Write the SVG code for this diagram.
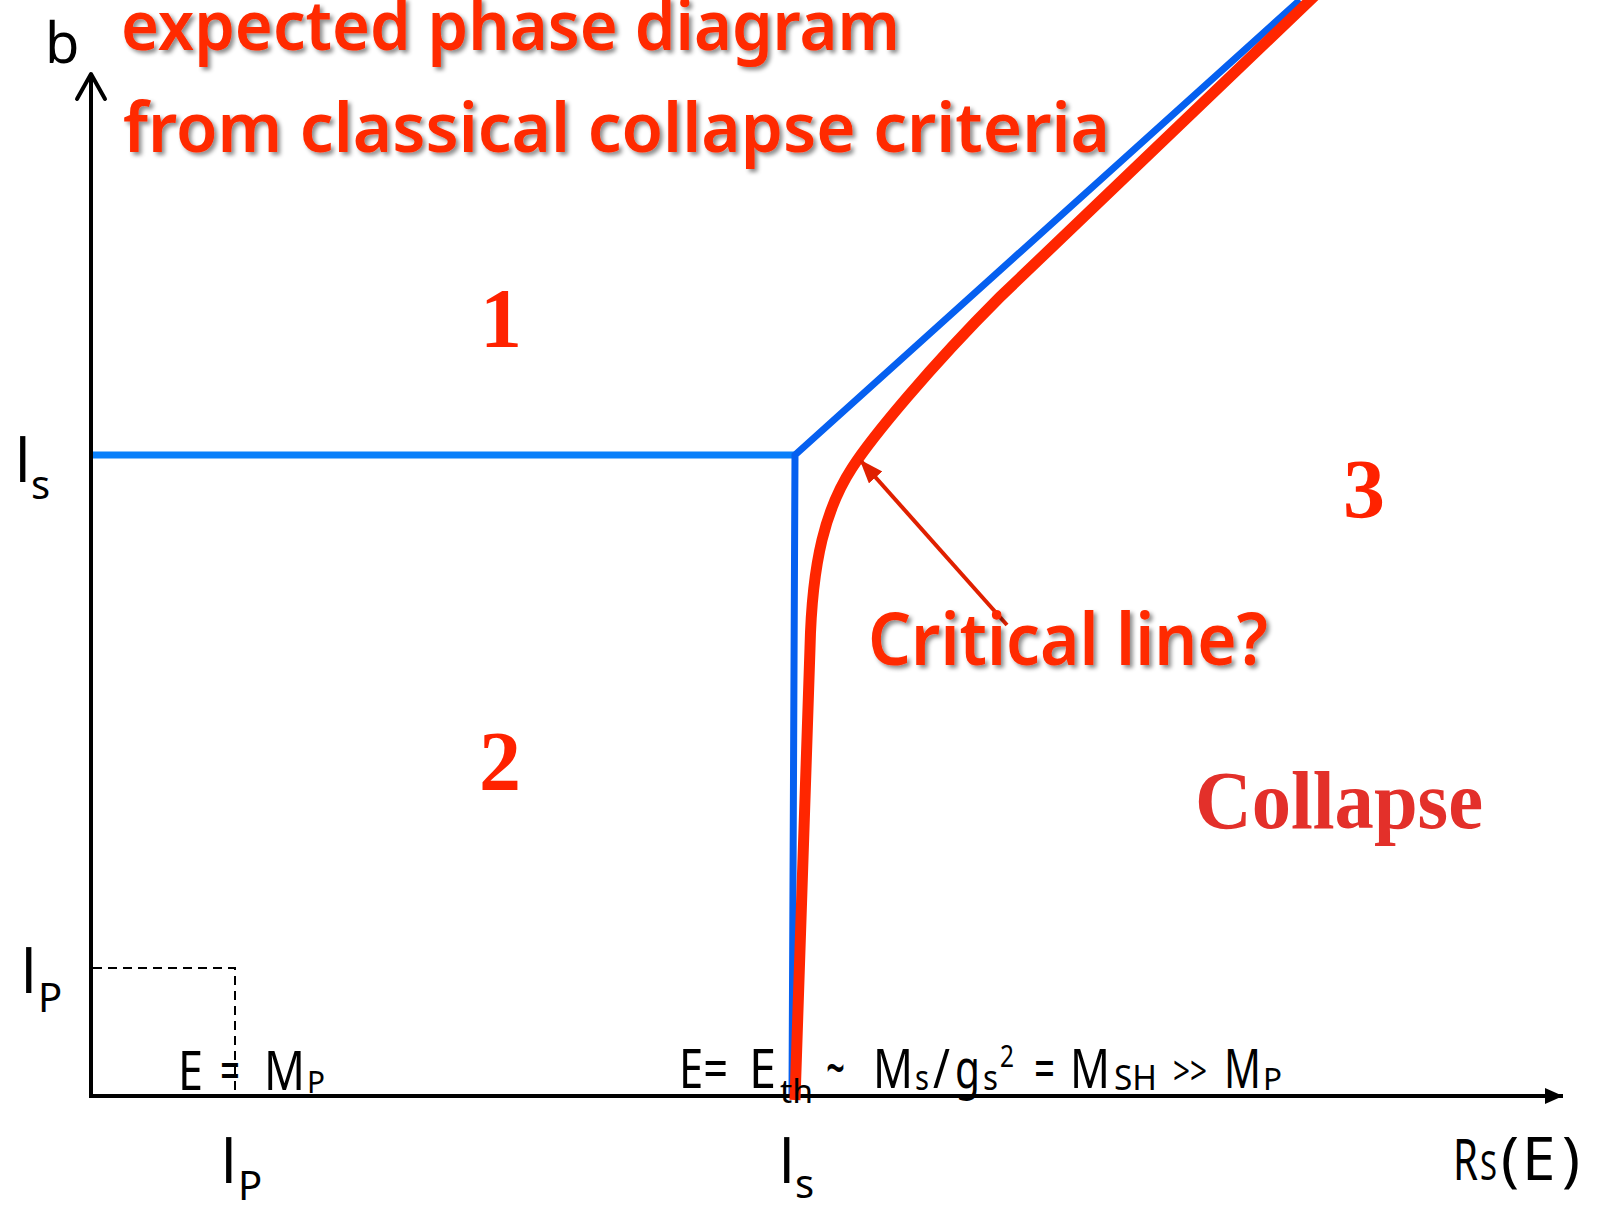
<svg xmlns="http://www.w3.org/2000/svg" width="1604" height="1210" viewBox="0 0 1604 1210">
<style>
.lbl{font-family:"Noto Sans","DejaVu Sans",sans-serif;fill:#000}
.title{font-family:"Noto Sans","DejaVu Sans",sans-serif;font-weight:600;fill:#ff2a00;filter:url(#shadow)}
.num{font-family:"Liberation Serif","Times New Roman",serif;font-weight:bold;fill:#ff2200;text-anchor:middle}
.axis{stroke:#000;stroke-width:4;fill:none}
.blueH{stroke:#0a80fa;stroke-width:7;fill:none}
.blue{stroke:#0660f0;stroke-width:7;fill:none;stroke-linejoin:miter}
.red{stroke:#ff2600;stroke-width:11;fill:none}
</style>
<defs>
<filter id="shadow" x="-5%" y="-20%" width="110%" height="150%">
<feDropShadow dx="3" dy="3" stdDeviation="2" flood-color="#000" flood-opacity="0.45"/>
</filter>
<marker id="xhead" markerWidth="20" markerHeight="18" refX="18" refY="8" orient="auto" markerUnits="userSpaceOnUse">
<path d="M0,0 L18,8 L0,16 Z" fill="#000"/>
</marker>
<marker id="redhead" markerWidth="26" markerHeight="20" refX="22" refY="9" orient="auto" markerUnits="userSpaceOnUse">
<path d="M0,0 L24,9 L0,18 Z" fill="#e02000"/>
</marker>
</defs>
<rect width="1604" height="1210" fill="#fff"/>

<g id="connectors">
<line class="axis" x1="91" y1="1098" x2="91" y2="76"/>
<polyline points="77,99 91,74 105,99" fill="none" stroke="#000" stroke-width="4" stroke-linecap="round" stroke-linejoin="round"/>
<line class="axis" x1="89" y1="1096" x2="1563" y2="1096" marker-end="url(#xhead)"/>
<polyline points="93,968 235,968 235,1092" fill="none" stroke="#000" stroke-width="2" stroke-dasharray="9,6"/>
<line class="blueH" x1="93" y1="455" x2="795" y2="455"/>
<polyline class="blue" points="792,1094 795,455 1300,0"/>
<path class="red" d="M795,1100 L810,648 C812,560 826,508 852,468 C872,437 930,367 1000,297 L1325,-14"/>
<line x1="1007" y1="625" x2="861" y2="461" stroke="#e02000" stroke-width="4" marker-end="url(#redhead)"/>
</g>

<g id="title">
<text class="title" x="121" y="50" font-size="68" textLength="779" lengthAdjust="spacingAndGlyphs">expected phase diagram</text>
<text class="title" x="123" y="152" font-size="68" textLength="987" lengthAdjust="spacingAndGlyphs">from classical collapse criteria</text>
</g>

<g id="axis-b"><text class="lbl" x="45" y="63" font-size="56">b</text></g>
<g id="axis-rs">
<text class="lbl" x="1453" y="1180" font-size="56" textLength="25" lengthAdjust="spacingAndGlyphs">R</text>
<text class="lbl" x="1480" y="1180" font-size="40" textLength="17" lengthAdjust="spacingAndGlyphs">S</text>
<text class="lbl" y="1180" font-size="60"><tspan x="1501">(</tspan><tspan x="1522">E</tspan><tspan x="1562">)</tspan></text>
</g>

<g id="ls-y"><text class="lbl" x="15" y="482" font-size="60">l<tspan font-size="40" x="31" y="499">s</tspan></text></g>
<g id="lp-y"><text class="lbl" x="21" y="993" font-size="60">l<tspan font-size="40" x="38" y="1012">P</tspan></text></g>
<g id="lp-x"><text class="lbl" x="221" y="1183" font-size="60">l<tspan font-size="40" x="238" y="1200">P</tspan></text></g>
<g id="ls-x"><text class="lbl" x="779" y="1183" font-size="60">l<tspan font-size="40" x="795" y="1198">s</tspan></text></g>

<g id="label-emp">
<text class="lbl" x="178" y="1090" font-size="54" textLength="25" lengthAdjust="spacingAndGlyphs">E</text>
<text class="lbl" x="220" y="1090" font-size="54" textLength="20" lengthAdjust="spacingAndGlyphs">=</text>
<text class="lbl" x="264" y="1090" font-size="54" textLength="41" lengthAdjust="spacingAndGlyphs">M</text>
<text class="lbl" x="307" y="1093" font-size="30" textLength="18" lengthAdjust="spacingAndGlyphs">P</text>
</g>

<g id="label-eth">
<text class="lbl" x="679" y="1088" font-size="54" textLength="49" lengthAdjust="spacingAndGlyphs">E=</text>
<text class="lbl" x="749" y="1088" font-size="54" textLength="27" lengthAdjust="spacingAndGlyphs">E</text>
<text class="lbl" x="780" y="1103" font-size="32" textLength="33" lengthAdjust="spacingAndGlyphs">th</text>
<text class="lbl" x="826" y="1090" font-size="62" textLength="19" lengthAdjust="spacingAndGlyphs">~</text>
<text class="lbl" x="873" y="1088" font-size="54" textLength="40" lengthAdjust="spacingAndGlyphs">M</text>
<text class="lbl" x="915" y="1090" font-size="34" textLength="14" lengthAdjust="spacingAndGlyphs">s</text>
<text class="lbl" x="933" y="1088" font-size="54" textLength="17" lengthAdjust="spacingAndGlyphs">/</text>
<text class="lbl" x="955" y="1088" font-size="54" textLength="25" lengthAdjust="spacingAndGlyphs">g</text>
<text class="lbl" x="983" y="1090" font-size="34" textLength="15" lengthAdjust="spacingAndGlyphs">s</text>
<text class="lbl" x="1000" y="1067" font-size="30" textLength="14" lengthAdjust="spacingAndGlyphs">2</text>
<text class="lbl" x="1034" y="1088" font-size="54" textLength="21" lengthAdjust="spacingAndGlyphs">=</text>
<text class="lbl" x="1070" y="1088" font-size="54" textLength="40" lengthAdjust="spacingAndGlyphs">M</text>
<text class="lbl" x="1114" y="1090" font-size="34" textLength="43" lengthAdjust="spacingAndGlyphs">SH</text>
<text class="lbl" x="1173" y="1085" font-size="40" textLength="34" lengthAdjust="spacingAndGlyphs">&gt;&gt;</text>
<text class="lbl" x="1224" y="1088" font-size="54" textLength="37" lengthAdjust="spacingAndGlyphs">M</text>
<text class="lbl" x="1263" y="1090" font-size="30" textLength="19" lengthAdjust="spacingAndGlyphs">P</text>
</g>

<g id="critical-line"><text class="title" x="868" y="665" font-size="72" textLength="400" lengthAdjust="spacingAndGlyphs">Critical line?</text></g>

<g id="region-1"><text class="num" x="501" y="347" font-size="84">1</text></g>
<g id="region-2"><text class="num" x="500" y="790" font-size="84">2</text></g>
<g id="region-3"><text class="num" x="1364" y="518" font-size="84">3</text></g>
<g id="collapse"><text x="1195" y="828" font-size="83" font-family="Liberation Serif,'Times New Roman',serif" font-weight="bold" fill="#e3302a" textLength="288" lengthAdjust="spacingAndGlyphs">Collapse</text></g>
</svg>
